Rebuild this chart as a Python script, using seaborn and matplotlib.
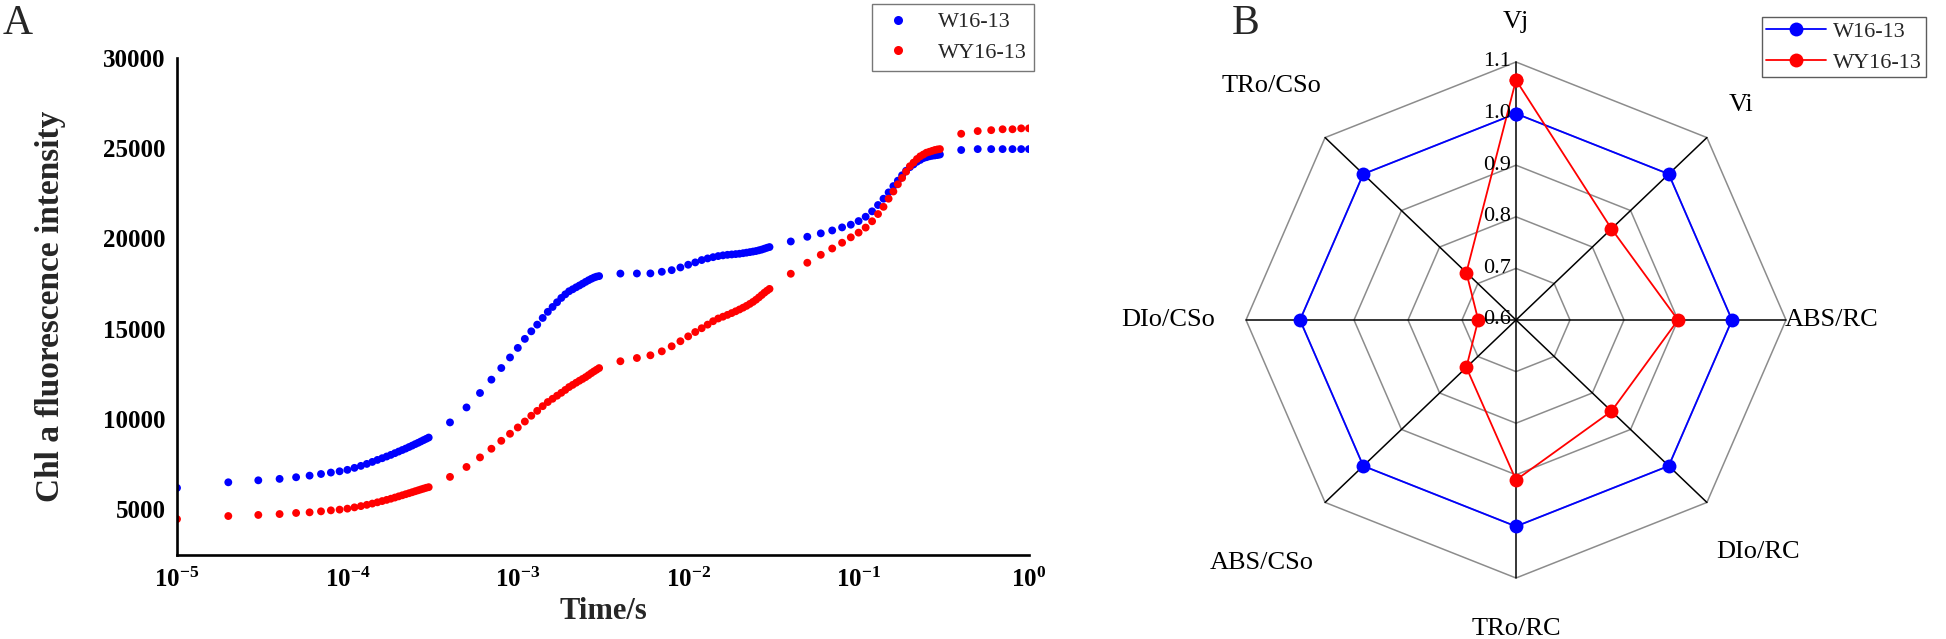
import numpy as np
import pandas as pd
import matplotlib
matplotlib.use('Agg')
import matplotlib.pyplot as plt
from matplotlib.ticker import MultipleLocator, NullLocator, FixedLocator, FixedFormatter
from matplotlib.lines import Line2D
import seaborn as sns

# ---------------- Panel A data (time in microseconds) ----------------
t1_us = [10, 20, 30, 40, 50, 60, 70, 80, 90, 100, 110, 120, 130, 140, 150, 160, 170, 180, 190, 200,
         210, 220, 230, 240, 250, 260, 270, 280, 290, 300]
w16_1 = [6170, 6480, 6590, 6670, 6760, 6850, 6940, 7020, 7090, 7170, 7280, 7390, 7500, 7610, 7720,
         7815, 7910, 8000, 8095, 8185, 8270, 8350, 8435, 8515, 8595, 8670, 8745, 8820, 8890, 8960]
wy16_1 = [4440, 4610, 4670, 4720, 4780, 4815, 4870, 4925, 4965, 5020, 5090, 5160, 5230, 5300, 5370,
          5440, 5505, 5570, 5635, 5700, 5760, 5820, 5875, 5930, 5985, 6035, 6085, 6130, 6175, 6210]

t2_us = [400, 500, 600, 700, 800, 900, 1000, 1100, 1200, 1300, 1400, 1500, 1600, 1700, 1800, 1900,
         2000, 2100, 2200, 2300, 2400, 2500, 2600, 2700, 2800, 2900, 3000]
w16_2 = [9800, 10630, 11430, 12170, 12815, 13400, 13930, 14430, 14850, 15220, 15590, 15930, 16200,
         16460, 16700, 16900, 17070, 17180, 17290, 17390, 17490, 17590, 17680, 17760, 17830, 17880, 17910]
wy16_2 = [6780, 7330, 7860, 8340, 8780, 9170, 9520, 9850, 10170, 10440, 10700, 10930, 11110, 11280,
          11440, 11600, 11760, 11880, 12000, 12110, 12210, 12310, 12420, 12530, 12630, 12720, 12810]

t3_us = [4000, 5000, 6000, 7000, 8000, 9000, 10000, 11000, 12000, 13000, 14000, 15000, 16000, 17000,
         18000, 19000, 20000, 21000, 22000, 23000, 24000, 25000, 26000, 27000, 28000, 29000, 30000]
w16_3 = [18050, 18055, 18060, 18150, 18240, 18390, 18540, 18670, 18800, 18890, 18960, 19020, 19060,
         19090, 19110, 19130, 19150, 19180, 19210, 19240, 19270, 19300, 19340, 19380, 19430, 19480, 19520]
wy16_3 = [13190, 13370, 13520, 13740, 14020, 14300, 14570, 14810, 15020, 15220, 15410, 15560, 15660,
          15760, 15860, 15960, 16060, 16160, 16260, 16370, 16480, 16600, 16730, 16860, 16990, 17100, 17200]

t4_us = [40000, 50000, 60000, 70000, 80000, 90000, 100000, 110000, 120000, 130000, 140000, 150000,
         160000, 170000, 180000, 190000, 200000, 210000, 220000, 230000, 240000, 250000, 260000,
         270000, 280000, 290000, 300000]
w16_4 = [19830, 20090, 20280, 20440, 20610, 20760, 20960, 21200, 21500, 21850, 22200, 22550, 22900,
         23200, 23500, 23750, 23950, 24100, 24250, 24350, 24450, 24500, 24550, 24580, 24600, 24620, 24650]
wy16_4 = [18040, 18650, 19090, 19440, 19760, 20060, 20320, 20600, 20950, 21350, 21750, 22200, 22600,
          23000, 23350, 23700, 24000, 24200, 24400, 24550, 24650, 24750, 24800, 24850, 24900, 24930, 24950]

t5_us = [400000, 500000, 600000, 700000, 800000, 900000, 1000000]
w16_5 = [24900, 24950, 24950, 24950, 24950, 24950, 24950]
wy16_5 = [25800, 25950, 26000, 26050, 26050, 26100, 26100]

series_names = ['W16-13', 'WY16-13']
series_colors = ['#0000FF', '#FF0000']

x_tick_vals = [1e-5, 1e-4, 1e-3, 1e-2, 1e-1, 1e0]
x_tick_labels = [r'$\mathbf{10^{-5}}$', r'$\mathbf{10^{-4}}$', r'$\mathbf{10^{-3}}$',
                 r'$\mathbf{10^{-2}}$', r'$\mathbf{10^{-1}}$', r'$\mathbf{10^{0}}$']
y_tick_vals = [5000, 10000, 15000, 20000, 25000, 30000]

# ---------------- Panel B data ----------------
params = ['Vj', 'Vi', 'ABS/RC', 'DIo/RC', 'TRo/RC', 'ABS/CSo', 'DIo/CSo', 'TRo/CSo']
w16_radar = [1.0, 1.0, 1.0, 1.0, 1.0, 1.0, 1.0, 1.0]
wy16_radar = [1.065, 0.85, 0.90, 0.85, 0.91, 0.73, 0.67, 0.73]
ring_vals = [0.6, 0.7, 0.8, 0.9, 1.0, 1.1]
ring_labels = ['0.6', '0.7', '0.8', '0.9', '1.0', '1.1']

# ---------------- style ----------------
sns.set_style('white')
plt.rcParams['font.family'] = ['Liberation Serif', 'DejaVu Serif']
plt.rcParams['mathtext.fontset'] = 'custom'
plt.rcParams['mathtext.rm'] = 'Liberation Serif'
plt.rcParams['mathtext.bf'] = 'Liberation Serif:bold'
plt.rcParams['mathtext.it'] = 'Liberation Serif:italic'

W, H = 1946, 639
fig = plt.figure(figsize=(W / 100, H / 100), dpi=100)

# ---------------- Panel A ----------------
axA = fig.add_axes([177 / W, 1 - 555 / H, (1029 - 177) / W, (555 - 58) / H])
t_all = t1_us + t2_us + t3_us + t4_us + t5_us
w_all = w16_1 + w16_2 + w16_3 + w16_4 + w16_5
r_all = wy16_1 + wy16_2 + wy16_3 + wy16_4 + wy16_5
dfA = pd.DataFrame({
    'time': [t * 1e-6 for t in t_all] * 2,
    'value': w_all + r_all,
    'series': [series_names[0]] * len(w_all) + [series_names[1]] * len(r_all),
})
sns.scatterplot(data=dfA, x='time', y='value', hue='series', hue_order=series_names,
                palette=dict(zip(series_names, series_colors)), s=32, linewidth=0,
                legend=False, ax=axA)
axA.set_xscale('log')
axA.set_xlim(1e-5, 1)
axA.set_ylim(2450, 30000)
axA.xaxis.set_major_locator(FixedLocator(x_tick_vals))
axA.xaxis.set_major_formatter(FixedFormatter(x_tick_labels))
axA.xaxis.set_minor_locator(NullLocator())
axA.yaxis.set_major_locator(FixedLocator(y_tick_vals))
axA.yaxis.set_minor_locator(MultipleLocator(2500))
for s in ['top', 'right']:
    axA.spines[s].set_visible(False)
for s in ['left', 'bottom']:
    axA.spines[s].set_linewidth(1.9)
    axA.spines[s].set_color('black')
axA.tick_params(axis='both', which='major', direction='in', length=7, width=1.9, labelsize=18,
                colors='black')
axA.tick_params(axis='y', which='minor', direction='in', length=4, width=1.9)
axA.tick_params(axis='x', which='major', pad=9)
axA.tick_params(axis='y', which='major', pad=8)
for lab in axA.get_yticklabels():
    lab.set_fontweight('bold')
axA.set_xlabel('Time/s', fontsize=22, fontweight='bold', labelpad=4)
axA.set_ylabel('Chl a fluorescence intensity', fontsize=24, fontweight='bold', labelpad=27)
axA.grid(False)

hA = [Line2D([], [], linestyle='none', marker='o', markersize=6.5, markeredgewidth=0, color=c)
      for c in series_colors]
legA = axA.legend(hA, series_names, loc='upper left', bbox_to_anchor=(872 / W, 1 - 4 / H),
                  bbox_transform=fig.transFigure, fontsize=16, frameon=True, fancybox=False,
                  borderaxespad=0, handlelength=1.6, handletextpad=1.0, borderpad=0.35,
                  labelspacing=0.45)
legA.get_frame().set_edgecolor('#555555')
legA.get_frame().set_linewidth(1.0)

# ---------------- Panel B (radar) ----------------
cx, cy = 1516, 320
rx, ry = 270, 258       # pixel radius of the outer ring (range 0.5)
half = 300
axB = fig.add_axes([(cx - half) / W, 1 - (cy + half) / H, 2 * half / W, 2 * half / H])

n = len(params)
theta = np.pi / 2 - np.arange(n) * 2 * np.pi / n
rmin = ring_vals[0]
rmax = ring_vals[-1]
for rv in ring_vals[1:]:
    rr = rv - rmin
    xs = list(rr * np.cos(theta)) + [rr * np.cos(theta[0])]
    ys = list(rr * np.sin(theta)) + [rr * np.sin(theta[0])]
    axB.plot(xs, ys, color='#8c8c8c', lw=1.1, zorder=1)
for th in theta:
    axB.plot([0, (rmax - rmin) * np.cos(th)], [0, (rmax - rmin) * np.sin(th)],
             color='black', lw=1.1, zorder=2)

rows = []
for name, vals in zip(series_names, [w16_radar, wy16_radar]):
    seq = list(range(n)) + [0]
    for k, i in enumerate(seq):
        rr = vals[i] - rmin
        rows.append({'x': rr * np.cos(theta[i]), 'y': rr * np.sin(theta[i]),
                     'series': name, 'order': k})
dfB = pd.DataFrame(rows)
sns.lineplot(data=dfB, x='x', y='y', hue='series', hue_order=series_names,
             palette=dict(zip(series_names, series_colors)), sort=False, estimator=None,
             units='series', marker='o', markersize=10, markeredgewidth=0, linewidth=1.3,
             legend=False, ax=axB, zorder=3)
axB.set_xlim(-0.5 * half / rx, 0.5 * half / rx)
axB.set_ylim(-0.5 * half / ry, 0.5 * half / ry)
axB.axis('off')

for rv, lab in zip(ring_vals, ring_labels):
    axB.text(-0.009, rv - rmin, lab, ha='right', va='center', fontsize=16, color='black',
             zorder=4)

label_r = [0.578, 0.59, 0.585, 0.635, 0.598, 0.665, 0.645, 0.64]
for th, p, lr in zip(theta, params, label_r):
    axB.text(lr * np.cos(th), lr * np.sin(th), p, ha='center', va='center', fontsize=19,
             color='black', clip_on=False)

hB = [Line2D([], [], marker='o', markersize=10, markeredgewidth=0, color=c, lw=1.3)
      for c in series_colors]
legB = fig.legend(hB, series_names, loc='upper left', bbox_to_anchor=(1762 / W, 1 - 17 / H),
                  fontsize=16, frameon=True, fancybox=False, borderaxespad=0, handlelength=2.7,
                  handletextpad=0.3, borderpad=0.2, labelspacing=0.45)
legB.get_frame().set_edgecolor('#333333')
legB.get_frame().set_linewidth(1.0)

# panel letters
fig.text(3 / W, 1 - 4 / H, 'A', ha='left', va='top', fontsize=30)
fig.text(1232 / W, 1 - 4 / H, 'B', ha='left', va='top', fontsize=30)

fig.savefig('out.png', dpi=100, facecolor='white')
